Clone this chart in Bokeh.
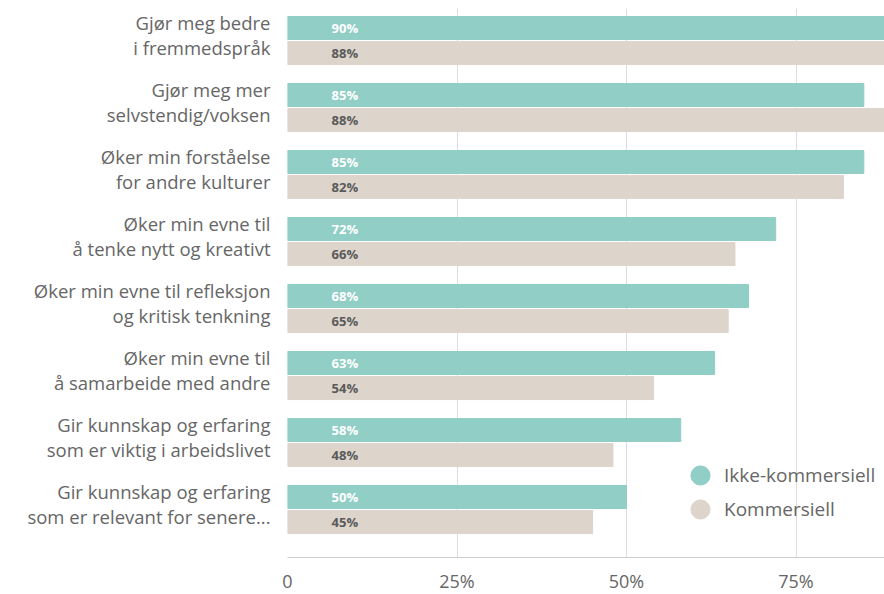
from bokeh.plotting import figure
from bokeh.models import ColumnDataSource, Range1d, FixedTicker, Legend, LegendItem
from bokeh.embed import file_html
from bokeh.resources import INLINE
from bokeh.core.properties import value

categories = [
    "Gjør meg bedre\ni fremmedspråk",
    "Gjør meg mer\nselvstendig/voksen",
    "Øker min forståelse\nfor andre kulturer",
    "Øker min evne til\nå tenke nytt og kreativt",
    "Øker min evne til refleksjon\nog kritisk tenkning",
    "Øker min evne til\nå samarbeide med andre",
    "Gir kunnskap og erfaring\nsom er viktig i arbeidslivet",
    "Gir kunnskap og erfaring\nsom er relevant for senere...",
]
ikke_kommersiell = [90, 85, 85, 72, 68, 63, 58, 50]
kommersiell = [88, 88, 82, 66, 65, 54, 48, 45]
series_names = ["Ikke-kommersiell", "Kommersiell"]
x_ticks = [0, 25, 50, 75]
x_tick_labels = ["0", "25%", "50%", "75%"]

TEAL = "#91CEC6"
BEIGE = "#DDD5CC"
FONT = "Open Sans"

n = len(categories)
pos = [i + 0.478 for i in range(n)]
label_pos = [q - 0.08 for q in pos]
off = 0.187
bh = 0.343

src1 = ColumnDataSource(dict(y=[p - off for p in pos], v=ikke_kommersiell,
                             t=[f"{v}%" for v in ikke_kommersiell]))
src2 = ColumnDataSource(dict(y=[p + off for p in pos], v=kommersiell,
                             t=[f"{v}%" for v in kommersiell]))

p = figure(frame_width=597, frame_height=549, output_backend="svg", toolbar_location=None,
           x_range=Range1d(0, 88.05), y_range=Range1d(8.194, 0),
           min_border_left=287, min_border_right=0, min_border_top=8, min_border_bottom=0)
p.outline_line_color = None
p.background_fill_color = "white"

p.hbar(y="y", left=0, right="v", height=bh, source=src1, color=TEAL)
p.hbar(y="y", left=0, right="v", height=bh, source=src2, color=BEIGE)

p.text(x=6.5, y="y", text="t", source=src1, text_color="white", text_font=value(FONT),
       text_font_size="13px", text_font_style="bold", text_baseline="middle", text_align="left")
p.text(x=6.5, y="y", text="t", source=src2, text_color="#5a5a5a", text_font=value(FONT),
       text_font_size="13px", text_font_style="bold", text_baseline="middle", text_align="left")

# x axis
p.xaxis.ticker = FixedTicker(ticks=x_ticks)
p.xaxis.major_label_overrides = {t: l for t, l in zip(x_ticks, x_tick_labels)}
p.xaxis.axis_line_color = "#cccccc"
p.xaxis.major_tick_line_color = None
p.xaxis.minor_tick_line_color = None
p.xaxis.major_label_text_font = FONT
p.xaxis.major_label_text_font_size = "18px"
p.xaxis.major_label_text_color = "#666666"
p.xaxis.major_label_standoff = 5

# y axis with category labels
p.yaxis.ticker = FixedTicker(ticks=label_pos)
p.yaxis.major_label_overrides = {pp: c for pp, c in zip(label_pos, categories)}
p.yaxis.axis_line_color = None
p.yaxis.major_tick_line_color = None
p.yaxis.minor_tick_line_color = None
p.yaxis.major_label_text_font = FONT
p.yaxis.major_label_text_font_size = "18.5px"
p.yaxis.major_label_text_line_height = 1.02
p.yaxis.major_label_text_color = "#666666"
p.yaxis.major_label_standoff = 11

p.xgrid.ticker = FixedTicker(ticks=[25, 50, 75])
p.xgrid.grid_line_color = "#dddddd"
p.ygrid.grid_line_color = None

# legend (one legend per item for tight vertical spacing)
nan = float("nan")
r1 = p.scatter(x=[nan], y=[nan], marker="circle", color=TEAL)
r2 = p.scatter(x=[nan], y=[nan], marker="circle", color=BEIGE)
common = dict(border_line_color=None, background_fill_alpha=0,
              label_text_font=FONT, label_text_font_size="19px", label_text_color="#666666",
              glyph_width=48, glyph_height=48, label_height=20,
              label_standoff=-2, padding=0, margin=0)
legend1 = Legend(items=[LegendItem(label=series_names[0], renderers=[r1])],
                 location=(389, 58), **common)
legend2 = Legend(items=[LegendItem(label=series_names[1], renderers=[r2])],
                 location=(389, 24), **common)
p.add_layout(legend1)
p.add_layout(legend2)

open("out.html", "w").write(file_html(p, INLINE))
